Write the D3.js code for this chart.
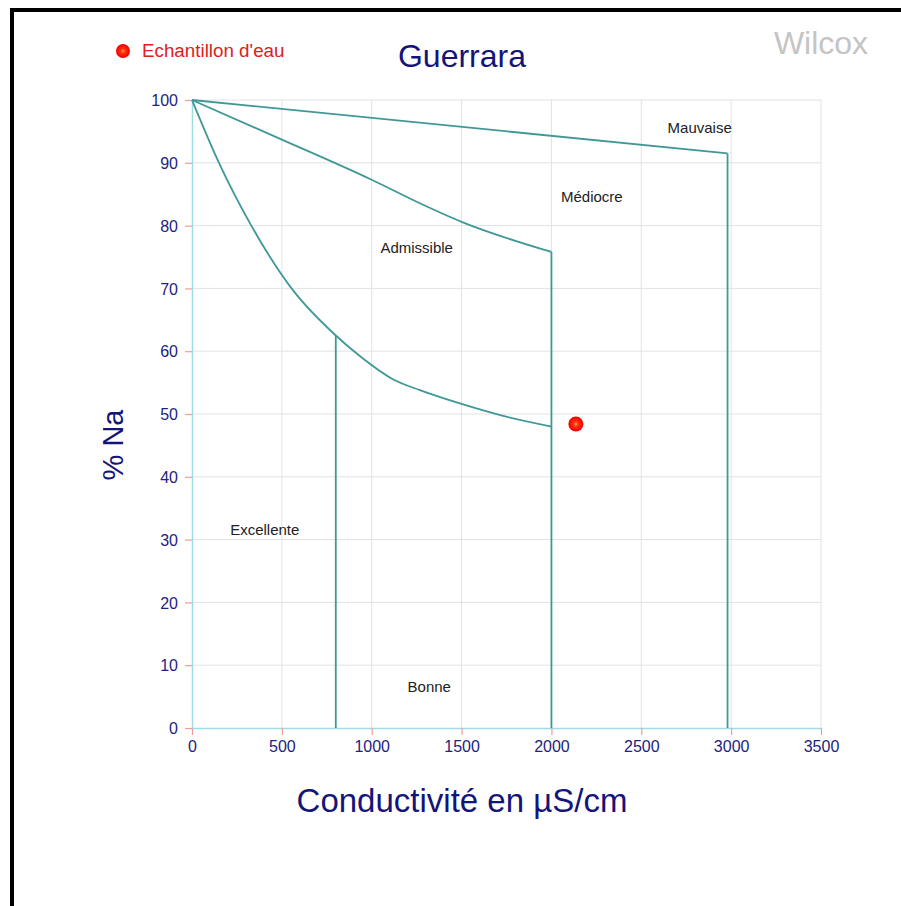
<!DOCTYPE html>
<html>
<head>
<meta charset="utf-8">
<script src="https://cdn.jsdelivr.net/npm/d3@7"></script>
<style>
  html, body { margin: 0; padding: 0; background: #fff; }
  svg { display: block; font-family: "Liberation Sans", Arial, sans-serif; }
</style>
</head>
<body>
<svg id="chart" width="901" height="906"></svg>
<script>
// ---- data ----
const title = "Guerrara";
const xTicks = [0, 500, 1000, 1500, 2000, 2500, 3000, 3500];
const yTicks = [0, 10, 20, 30, 40, 50, 60, 70, 80, 90, 100];

// class boundaries (conductivity µS/cm, %Na)
const curveMauvaise = [[0, 100], [2980, 91.5]];
const curveMediocre = [[0, 100], [500, 93.7], [1000, 87.3], [1250, 83.8], [1500, 80.6], [2000, 75.8]];
const curveAdmissible = [[0, 100], [150, 90], [330, 80], [554, 70], [800, 62.5], [944, 59], [1120, 55.5], [1268, 53.8], [1500, 51.6], [1731, 49.7], [2000, 48]];
const verticals = [[800, 62.5], [2000, 75.8], [2980, 91.5]];

const zoneLabels = [
  { name: "Mauvaise", x: 2825, y: 94.7 },
  { name: "Médiocre", x: 2225, y: 83.8 },
  { name: "Admissible", x: 1250, y: 75.6 },
  { name: "Excellente", x: 405, y: 30.7 },
  { name: "Bonne", x: 1320, y: 5.7 }
];

const samples = [{ name: "Echantillon d'eau", cond: 2136, na: 48.4 }];

// ---- layout ----
const svg = d3.select("#chart");
const W = 901, H = 906;
const x = d3.scaleLinear().domain([0, 3500]).range([192, 821]);
const y = d3.scaleLinear().domain([0, 100]).range([728, 100]);

svg.append("rect").attr("width", W).attr("height", H).attr("fill", "#fff");

// frame (left & top visible)
svg.append("rect").attr("x", 10).attr("y", 8).attr("width", 4).attr("height", H - 8).attr("fill", "#000");
svg.append("rect").attr("x", 10).attr("y", 8).attr("width", W - 10).attr("height", 4).attr("fill", "#000");

// gradient for markers
const defs = svg.append("defs");
const grad = defs.append("radialGradient").attr("id", "mk");
grad.append("stop").attr("offset", "0%").attr("stop-color", "#ffa030");
grad.append("stop").attr("offset", "35%").attr("stop-color", "#ff3010");
grad.append("stop").attr("offset", "100%").attr("stop-color", "#ee0000");

// grid
const grid = svg.append("g");
grid.selectAll(".gx").data(xTicks.filter(d => d > 0)).enter().append("line")
  .attr("x1", d => x(d)).attr("x2", d => x(d)).attr("y1", y(0)).attr("y2", y(100))
  .attr("stroke", "#e2e2e2").attr("stroke-width", 1);
grid.selectAll(".gy").data(yTicks.filter(d => d > 0)).enter().append("line")
  .attr("x1", x(0)).attr("x2", x(3500)).attr("y1", d => y(d)).attr("y2", d => y(d))
  .attr("stroke", "#e2e2e2").attr("stroke-width", 1);

// axes
const xAxis = svg.append("g").attr("transform", `translate(0,${y(0)})`)
  .call(d3.axisBottom(x).tickValues(xTicks).tickFormat(d3.format("d")).tickSize(7).tickSizeOuter(0).tickPadding(6));
const yAxis = svg.append("g").attr("transform", `translate(${x(0)},0)`)
  .call(d3.axisLeft(y).tickValues(yTicks).tickFormat(d3.format("d")).tickSize(7).tickSizeOuter(0).tickPadding(7));
[xAxis, yAxis].forEach(a => {
  a.select(".domain").attr("stroke", "#9fdde4").attr("stroke-width", 1.5);
  a.selectAll(".tick line").attr("stroke", "#f29a9a").attr("stroke-width", 1.2);
  a.selectAll(".tick text").attr("fill", "#23237e").attr("font-size", 16)
    .attr("font-family", "'Liberation Sans', Arial, sans-serif");
});
yAxis.selectAll(".tick text").attr("dy", "0.36em");

// curves
const stroke = "#3f9896";
const smooth = d3.line().x(d => x(d[0])).y(d => y(d[1])).curve(d3.curveMonotoneX);
[curveMauvaise, curveMediocre, curveAdmissible].forEach(c => {
  svg.append("path").attr("d", smooth(c)).attr("fill", "none")
    .attr("stroke", stroke).attr("stroke-width", 1.8).attr("stroke-linejoin", "round");
});
svg.selectAll(".vl").data(verticals).enter().append("line")
  .attr("x1", d => x(d[0])).attr("x2", d => x(d[0]))
  .attr("y1", d => y(d[1])).attr("y2", y(0))
  .attr("stroke", stroke).attr("stroke-width", 1.8);

// zone labels
svg.selectAll(".zl").data(zoneLabels).enter().append("text")
  .attr("x", d => x(d.x)).attr("y", d => y(d.y))
  .attr("text-anchor", "middle").attr("font-size", 15).attr("fill", "#222")
  .text(d => d.name);

// sample points
svg.selectAll(".pt").data(samples).enter().append("circle")
  .attr("cx", d => x(d.cond)).attr("cy", d => y(d.na)).attr("r", 7.5)
  .attr("fill", "url(#mk)");

// legend
svg.append("circle").attr("cx", 123).attr("cy", 51).attr("r", 7).attr("fill", "url(#mk)");
svg.append("text").attr("x", 142).attr("y", 57).attr("font-size", 18.8).attr("fill", "#e0201a")
  .text(samples[0].name);

// title
svg.append("text").attr("x", 462).attr("y", 67).attr("text-anchor", "middle")
  .attr("font-size", 32).attr("fill", "#14147a").text(title);

// Wilcox
svg.append("text").attr("x", 821).attr("y", 54).attr("text-anchor", "middle")
  .attr("font-size", 32).attr("fill", "#c4c4c4").text("Wilcox");

// axis titles
svg.append("text").attr("x", 462).attr("y", 812).attr("text-anchor", "middle")
  .attr("font-size", 33).attr("fill", "#14147a").text("Conductivité en µS/cm");
svg.append("text").attr("transform", "translate(123,445) rotate(-90)").attr("text-anchor", "middle")
  .attr("font-size", 29).attr("fill", "#14147a").text("% Na");
</script>
</body>
</html>
